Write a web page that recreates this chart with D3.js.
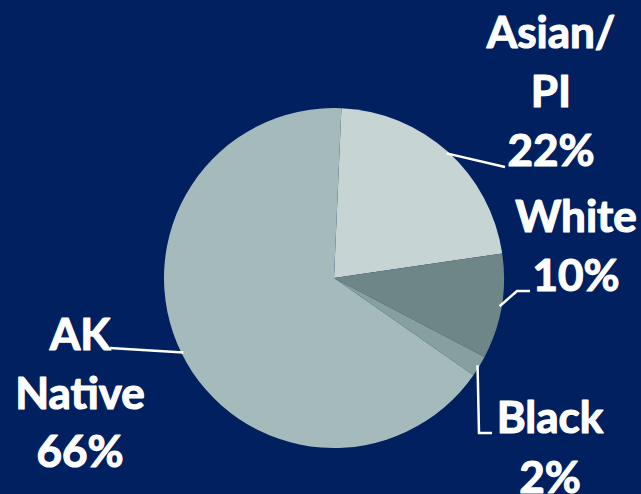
<!DOCTYPE html>
<html>
<head>
<meta charset="utf-8">
<script src="https://cdn.jsdelivr.net/npm/d3@7"></script>
<style>
  html, body { margin: 0; padding: 0; background: #002060; }
  svg { display: block; }
</style>
</head>
<body>
<svg id="chart" width="641" height="494"></svg>
<script>
// Population share by race
const categories = ["Asian/PI", "White", "Black", "AK Native"];
const shares = [22, 10, 2, 66];
const labelLines = [["Asian/", "PI", "22%"], ["White", "10%"], ["Black", "2%"], ["AK", "Native", "66%"]];
const sliceColors = ["#c6d4d4", "#6e8786", "#86a0a0", "#a4babb"];

const width = 641, height = 494;
const cx = 334, cy = 278, radius = 170;
const startRot = 2.5 * Math.PI / 180;

const svg = d3.select("#chart");
svg.append("rect").attr("width", width).attr("height", height).attr("fill", "#002060");

const pie = d3.pie().sort(null).value(d => d.v)
  .startAngle(startRot).endAngle(startRot + 2 * Math.PI);
const data = categories.map((c, i) => ({ c, v: shares[i], color: sliceColors[i], lines: labelLines[i] }));
const arcs = pie(data);

const arc = d3.arc().innerRadius(0).outerRadius(radius);
const g = svg.append("g").attr("transform", `translate(${cx},${cy})`);

g.selectAll("path.slice").data(arcs).join("path")
  .attr("class", "slice")
  .attr("d", arc)
  .attr("fill", d => d.data.color);

// Label placement (page coordinates): text centre x, first baseline, line step,
// and leader polyline bends after the point on the rim.
const labelLayout = {
  "Asian/PI":  { x: 551, y: 48,  step: 59, bends: [[505, 167]] },
  "White":     { x: 576, y: 232, step: 59, bends: [[517, 291], [530, 291]] },
  "Black":     { x: 550, y: 433, step: 60, bends: [[479, 433], [492, 433]] },
  "AK Native": { x: 80,  y: 350, step: 58.5, bends: [[110, 348]] }
};

const rimR = radius - 2;
const leaders = svg.append("g");
arcs.forEach(a => {
  const L = labelLayout[a.data.c];
  const mid = (a.startAngle + a.endAngle) / 2;
  const p0 = [cx + rimR * Math.sin(mid), cy - rimR * Math.cos(mid)];
  leaders.append("path")
    .attr("d", d3.line()([p0, ...L.bends]))
    .attr("fill", "none")
    .attr("stroke", "#ffffff")
    .attr("stroke-width", 2.5);
});

const labels = svg.append("g")
  .attr("font-family", "Lato, 'Open Sans', sans-serif")
  .attr("font-weight", 700)
  .attr("font-size", 44)
  .attr("fill", "#ffffff")
  .attr("stroke", "#ffffff")
  .attr("stroke-width", 1.2)
  .attr("stroke-linejoin", "round")
  .attr("text-anchor", "middle");

arcs.forEach(a => {
  const L = labelLayout[a.data.c];
  a.data.lines.forEach((t, k) => {
    labels.append("text")
      .attr("x", L.x)
      .attr("y", L.y + k * L.step)
      .text(t);
  });
});
</script>
</body>
</html>
